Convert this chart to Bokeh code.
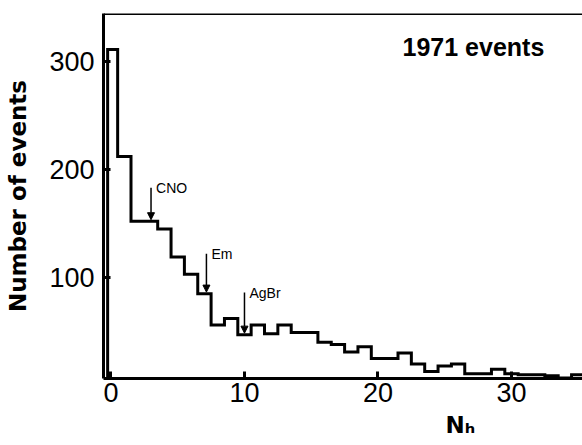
import math
import numpy as np
from bokeh.plotting import figure
from bokeh.models import (ColumnDataSource, Arrow, NormalHead, Label, Span,
                          FixedTicker, Range1d, Title)
from bokeh.core.properties import value
from bokeh.embed import file_html
from bokeh.resources import INLINE

# ---- data ----
bin_centers = list(range(36))  # N_h values (bins of width 1, centred on integers)
counts = [311, 212, 152, 152, 145, 119, 103, 85, 56, 62,
          47, 56, 48, 56, 49, 49, 40, 38, 31, 36,
          25, 25, 30, 20, 13, 18, 20, 11, 11, 15,
          11, 10, 10, 9, 7, 10]
x_ticks = [0, 10, 20, 30]
y_ticks = [100, 200, 300]
marker_names = ["CNO", "Em", "AgBr"]
marker_x = [3.0, 7.15, 10.0]
marker_bin = [3, 7, 10]
marker_top = [183, 122, 86]
total_events = 1971

FONT = "Liberation Sans"

x_lo, x_hi = -0.56, 35.32
y_lo, y_hi = 6.5, 344.4

p = figure(width=582, height=445, x_range=Range1d(x_lo, x_hi),
           y_range=Range1d(y_lo, y_hi), output_backend="svg",
           toolbar_location=None, min_border_left=103, min_border_right=0,
           min_border_top=13, min_border_bottom=67)
p.outline_line_color = None
p.grid.visible = False
p.background_fill_color = "white"
p.border_fill_color = "white"

# histogram as a step outline
edges = [c - 0.5 for c in bin_centers] + [bin_centers[-1] + 0.5]
edges[0] = -0.25
xs = [edges[0]]
ys = [y_lo - 5]
for i, c in enumerate(counts):
    xs += [edges[i], edges[i + 1]]
    ys += [c, c]
p.line(xs, ys, line_color="black", line_width=3, line_join="miter")

# axes
for ax in (p.xaxis[0], p.yaxis[0]):
    ax.axis_line_width = 3
    ax.axis_line_color = "black"
    ax.major_tick_line_width = 3
    ax.major_tick_in = 7
    ax.major_tick_out = 0
    ax.minor_tick_line_color = None
    ax.major_label_text_font = FONT
    ax.major_label_text_font_size = "27px"
    ax.major_label_text_color = "black"
p.xaxis.ticker = FixedTicker(ticks=x_ticks)
p.yaxis.ticker = FixedTicker(ticks=y_ticks)
p.xaxis.major_label_standoff = 4
p.yaxis.major_label_standoff = 9

p.yaxis.axis_label = "Number of events"
p.yaxis.axis_label_text_font = "DejaVu Sans"
p.yaxis.axis_label_text_font_size = "23px"
p.yaxis.axis_label_text_font_style = "bold"
p.yaxis.axis_label_text_color = "black"
p.yaxis.axis_label_standoff = 15

p.add_layout(Span(location=y_hi, dimension="width", line_color="black",
                  line_width=3))

# marker arrows
src = ColumnDataSource(dict(
    x=marker_x, top=marker_top,
    tip=[counts[b] + 1.5 for b in marker_bin], name=marker_names))
p.add_layout(Arrow(end=NormalHead(size=7, fill_color="black",
                                  line_color="black", line_width=1),
                   x_start="x", y_start="top", x_end="x", y_end="tip",
                   line_width=1.5, line_color="black", source=src))
p.text(x="x", y="top", text="name", source=src, x_offset=5,
       text_baseline="middle", text_align="left",
       text_font=value(FONT), text_font_size="14px", text_color="black")

p.add_layout(Label(x=21.84, y=313, text=f"{total_events} events",
                   text_font=FONT, text_font_size="25px",
                   text_font_style="bold", text_color="black",
                   text_baseline="alphabetic"))

# x-axis title N_h, as a title below the axis
p.add_layout(Title(text="N\u2095", align="left", offset=342,
                   text_font="DejaVu Sans", text_font_size="23px",
                   text_font_style="bold", text_color="black",
                   standoff=10), "below")

open("out.html", "w").write(file_html(p, INLINE))
